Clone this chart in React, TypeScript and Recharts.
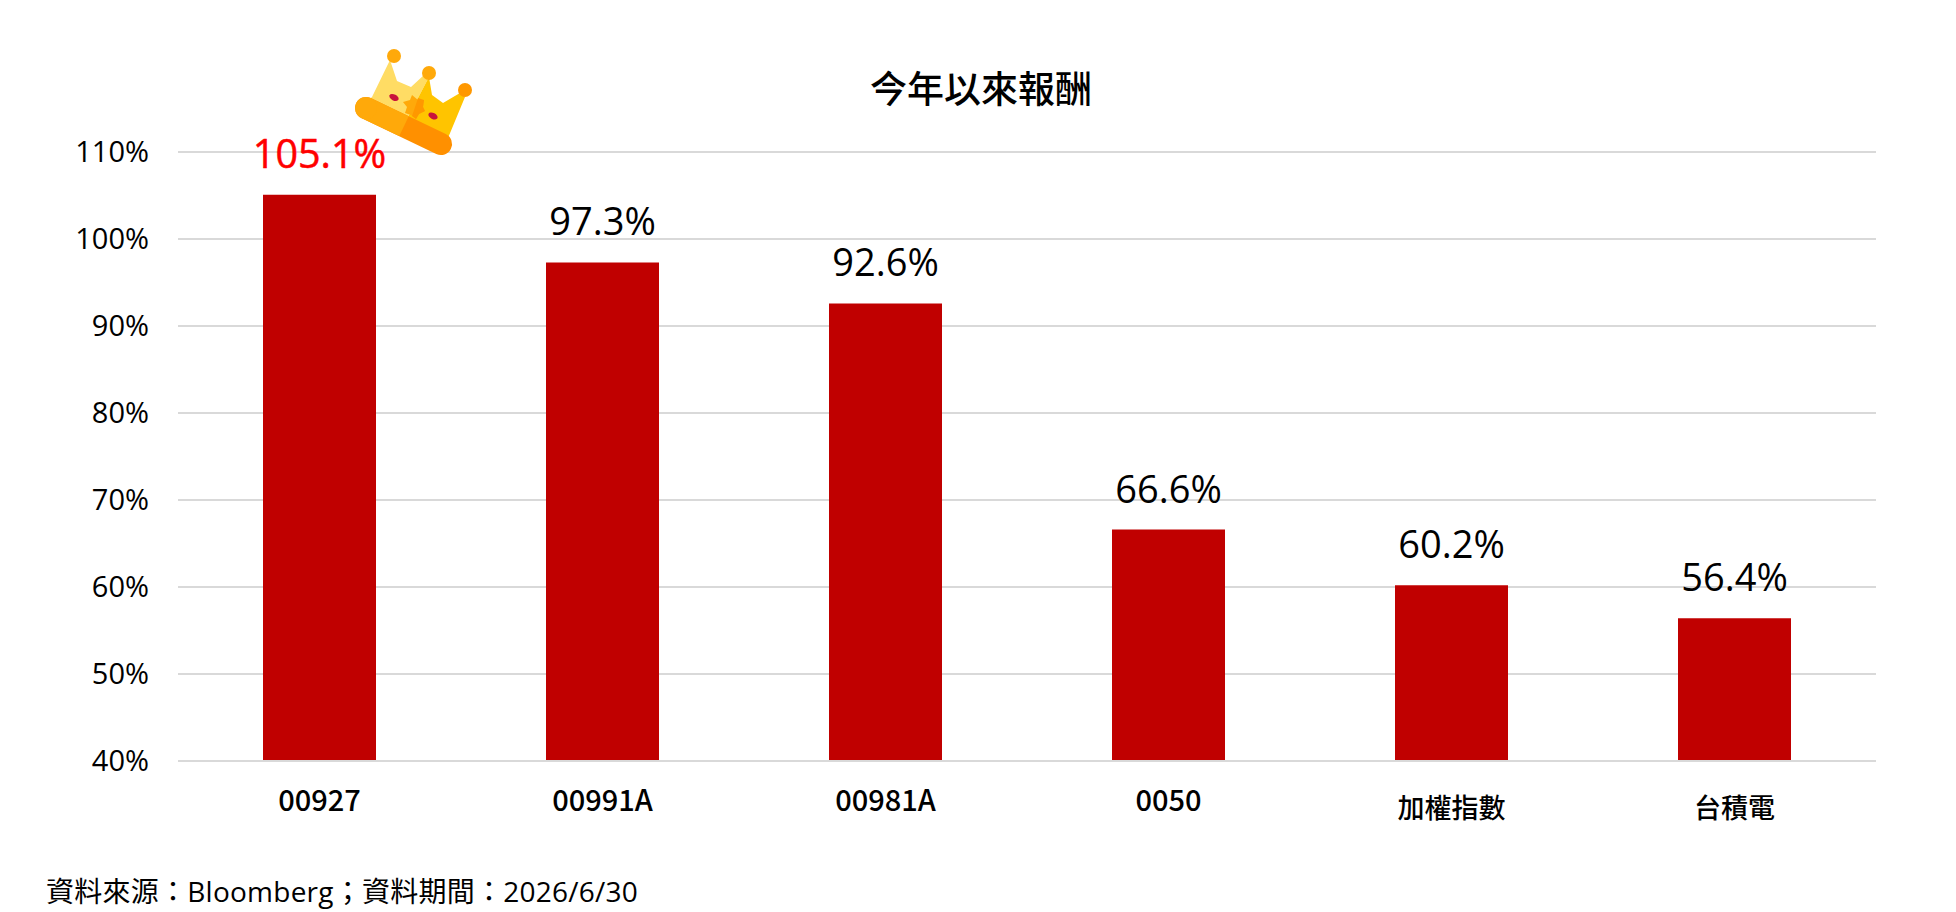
import { BarChart, Bar, XAxis, YAxis, CartesianGrid, LabelList } from "recharts"

const FONT = '"Open Sans", "Noto Sans CJK TC", sans-serif'
const CJK_FONT = '"Noto Sans CJK TC", sans-serif'

const categories = ["00927", "00991A", "00981A", "0050", "加權指數", "台積電"]
const returns = [105.1, 97.3, 92.6, 66.6, 60.2, 56.4]
const yTicks = [40, 50, 60, 70, 80, 90, 100, 110]

const data = categories.map((name, i) => ({ name, value: returns[i] }))
const best = Math.max(...returns)

function CategoryTick({ x, y, payload }: any) {
  const isCjk = /[^\x00-\x7f]/.test(payload.value)
  return (
    <text
      x={x}
      y={isCjk ? y + 49 : y + 42}
      textAnchor="middle"
      fontFamily={CJK_FONT}
      fontSize={isCjk ? 27 : 29}
      fontWeight={500}
      fill="#000"
    >
      {payload.value}
    </text>
  )
}

function ValueLabel({ x, y, width, value }: any) {
  const top = value === best
  return (
    <text
      x={x + width / 2}
      y={y - 27}
      textAnchor="middle"
      fontFamily={FONT}
      fontSize={top ? 39.5 : 38}
      fill={top ? "#ff0000" : "#000"}
      stroke={top ? "#ff0000" : "none"}
      strokeWidth={0.5}
    >
      {value.toFixed(1)}%
    </text>
  )
}

// decorative crown above the top bar
function Crown() {
  return (
    <svg
      width={150}
      height={130}
      viewBox="0 0 150 130"
      style={{ position: "absolute", left: 340, top: 40 }}
    >
      <polygon points="50,20 57,41 71,47 84,35 89,37 68,77 60,90 22,66 32,57" fill="#ffdc64" />
      <polygon points="89,37 92,55 103,63 120,53 125,57 108,98 60,90 68,77" fill="#ffc400" />
      <line x1="26" y1="68" x2="101" y2="104" stroke="#ff9000" strokeWidth={22} strokeLinecap="round" />
      <line x1="26" y1="68" x2="64" y2="86.2" stroke="#ffa90a" strokeWidth={22} />
      <circle cx="26" cy="68" r="11" fill="#ffa90a" />
      <polygon points="72,55 78,60 84,60 83,67 85,71 79,74 76,79 71,75 65,73 67,67 63,62 70,60" fill="#ffa90a" />
      <polygon points="78,58 84,60 83,67 85,71 79,74 76,79 72,76" fill="#ff9800" />
      <ellipse cx="54" cy="57.5" rx="5" ry="3" transform="rotate(28 54 57.5)" fill="#c8133c" />
      <ellipse cx="93" cy="76" rx="5" ry="3" transform="rotate(28 93 76)" fill="#c8133c" />
      <circle cx="54" cy="16" r="7" fill="#ffa90a" />
      <circle cx="89" cy="33" r="7" fill="#ffa90a" />
      <circle cx="125" cy="50" r="7" fill="#ff9800" />
    </svg>
  )
}

export default function App() {
  return (
    <div style={{ position: "absolute", left: 0, top: 0, width: 1956, height: 912, background: "#fff", fontFamily: FONT }}>
      <BarChart
        width={1956}
        height={912}
        data={data}
        margin={{ top: 152, right: 80, bottom: 121, left: 0 }}
      >
        <CartesianGrid vertical={false} stroke="#d9d9d9" strokeWidth={2} />
        <YAxis
          domain={[40, 110]}
          ticks={yTicks}
          width={178}
          axisLine={false}
          tickLine={false}
          tickSize={29}
          tickMargin={0}
          tick={{ fontFamily: FONT, fontSize: 29, fill: "#000" }}
          tickFormatter={(v: number) => `${v}%`}
        />
        <Bar dataKey="value" fill="#c00000" barSize={113} isAnimationActive={false}>
          <LabelList dataKey="value" content={ValueLabel} />
        </Bar>
        <XAxis
          dataKey="name"
          interval={0}
          height={30}
          axisLine={{ stroke: "#d9d9d9", strokeWidth: 2 }}
          tickLine={false}
          tick={CategoryTick}
        />
      </BarChart>
      <Crown />
      <div style={{ position: "absolute", left: 870, top: 62, fontFamily: CJK_FONT, fontSize: 37, fontWeight: 500, color: "#000", lineHeight: "50px" }}>
        今年以來報酬
      </div>
      <div style={{ position: "absolute", left: 46, top: 871, fontFamily: FONT, fontSize: 28, letterSpacing: 0.25, color: "#000", lineHeight: "40px", whiteSpace: "nowrap" }}>
        資料來源：Bloomberg；資料期間：2026/6/30
      </div>
    </div>
  )
}
